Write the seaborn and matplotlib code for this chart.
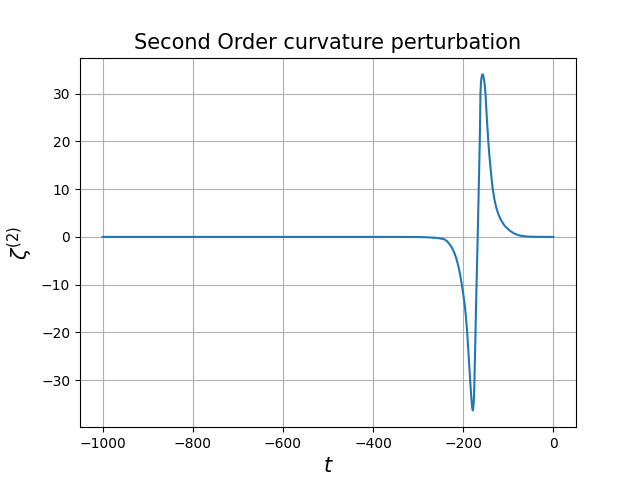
import matplotlib
matplotlib.use("Agg")
import matplotlib.pyplot as plt
import seaborn as sns
import pandas as pd

# values
t = [-1000, -700, -400, -300, -280, -260, -250, -242, -236, -230.6,
     -227, -223.3, -219.5, -215.8, -212, -208.4, -205.8, -203.3, -200, -197,
     -194, -191.3, -188, -184.7, -183, -181.8, -180.4, -178.9, -177.8, -177,
     -176, -175.2, -172.9, -171.4, -168, -165.5, -163.4, -162.6, -161.9, -160.8,
     -159.5, -158, -156.7, -155.3, -153.5, -152, -150.8, -149, -147.5, -146,
     -144.5, -142.5, -140.4, -137.5, -134.6, -131, -127, -122, -116, -108,
     -97.6, -87, -75.4, -64, -53, -25, 0]
zeta2 = [0, 0, 0, -0.02, -0.08, -0.2, -0.33, -0.5, -0.9, -1.5,
         -2.0, -2.6, -3.4, -4.4, -5.7, -7.2, -8.5, -10, -12, -14,
         -16.8, -20, -25, -30, -32.5, -34.1, -35.6, -36.3, -35.8, -34.8,
         -32.8, -30, -20, -13.3, 0, 11, 20, 25, 30, 32.3,
         33.4, 33.95, 34, 33.6, 32.6, 31.4, 30, 27, 24.5, 22.2,
         20, 17.5, 15.3, 12.4, 10, 7.9, 6.2, 4.7, 3.45, 2.3,
         1.36, 0.7, 0.3, 0.13, 0.05, 0.01, 0]

df = pd.DataFrame({"t": t, "zeta2": zeta2})

fig, ax = plt.subplots(figsize=(6.4, 4.8), dpi=100)
sns.lineplot(data=df, x="t", y="zeta2", color="#1f77b4", sort=False,
             errorbar=None, ax=ax)
ax.set_title("Second Order curvature perturbation", fontsize=15)
ax.set_xlabel("$t$", fontsize=15)
ax.set_ylabel(r"$\zeta^{(2)}$", fontsize=15)
ax.grid(True)

fig.savefig("out.png", dpi=100)
